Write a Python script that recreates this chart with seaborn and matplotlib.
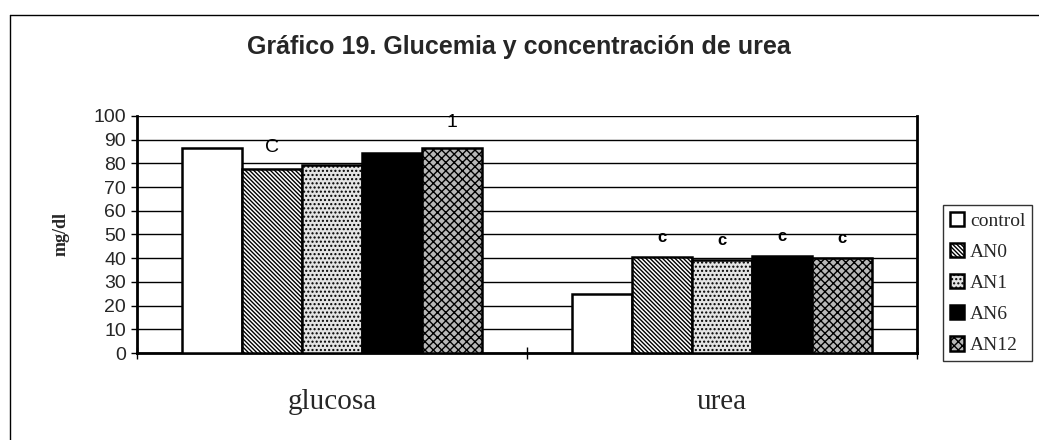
import matplotlib
matplotlib.use("Agg")
import matplotlib.pyplot as plt
import seaborn as sns
import pandas as pd
from matplotlib.lines import Line2D

categories = ["glucosa", "urea"]
groups = ["control", "AN0", "AN1", "AN6", "AN12"]
glucosa_vals = [86.5, 77.6, 79.3, 84.4, 86.5]
urea_vals = [24.9, 40.5, 39.4, 40.9, 40.2]
glucosa_marks = ["", "C", "", "", "1"]
urea_marks = ["", "c", "c", "c", "c"]
yticks = list(range(0, 101, 10))

rows = []
for g, v in zip(groups, glucosa_vals):
    rows.append({"cat": "glucosa", "group": g, "value": v})
for g, v in zip(groups, urea_vals):
    rows.append({"cat": "urea", "group": g, "value": v})
df = pd.DataFrame(rows)

sns.set_theme(style="white")
plt.rcParams["font.family"] = ["Liberation Sans", "DejaVu Sans"]
plt.rcParams["hatch.linewidth"] = 1.0

fig = plt.figure(figsize=(10.39, 4.40), dpi=100)
ax = fig.add_axes([137/1039, 1-353/440, (917-137)/1039, (353-116)/440])

faces = {"control": "white", "AN0": "white", "AN1": "#e4e4e4", "AN6": "black", "AN12": "#b8b8b8"}
hatches = {"control": "", "AN0": "\\\\\\\\\\\\\\\\", "AN1": "....", "AN6": "", "AN12": "xxxx"}

sns.barplot(data=df, x="cat", y="value", hue="group", order=categories, hue_order=groups,
            palette=faces, saturation=1, edgecolor="black", linewidth=1.8, width=0.77,
            ax=ax, legend=False)

for cont, g in zip(ax.containers, groups):
    for p in cont.patches:
        p.set_hatch(hatches[g])
        p.set_edgecolor("black")
        p.set_zorder(3)

ax.set_ylim(0, 100)
ax.set_xlim(-0.5, 1.5)
ax.set_yticks(yticks)
ax.yaxis.grid(True, color="black", linewidth=1.0, zorder=0)
ax.set_axisbelow(True)
for s in ["left", "bottom", "right"]:
    ax.spines[s].set_visible(True)
    ax.spines[s].set_color("black")
    ax.spines[s].set_linewidth(2.0)
ax.spines["top"].set_visible(False)
ax.tick_params(axis="y", which="major", length=4, width=1, color="black", direction="out",
               labelsize=14, pad=4, left=True)
ax.tick_params(axis="x", which="major", length=0, labelsize=21, pad=26)
for lbl in ax.get_xticklabels():
    lbl.set_family(["Liberation Serif", "DejaVu Serif"])
ax.set_xticks([-0.5, 0.5, 1.5], minor=True)
ax.tick_params(axis="x", which="minor", length=8, width=1, color="black", direction="inout", bottom=True)
ax.set_xlabel("")
ax.set_ylabel("mg/dl", fontsize=13, fontweight="bold", family=["Liberation Serif", "DejaVu Serif"])
ax.yaxis.set_label_coords(-0.087, 0.5)

# annotation letters above bars
gl_bars = [c.patches[0] for c in ax.containers]
ur_bars = [c.patches[1] for c in ax.containers]
for p, m in zip(gl_bars, glucosa_marks):
    if m:
        cx = p.get_x() + p.get_width() / 2
        off = 5.5 if m == "C" else 7.0
        ax.text(cx, p.get_height() + off, m, ha="center", va="bottom", fontsize=14, color="black")
for p, m in zip(ur_bars, urea_marks):
    if m:
        cx = p.get_x() + p.get_width() / 2
        ax.text(cx, p.get_height() + 5, m, ha="center", va="bottom", fontsize=12,
                fontweight="bold", color="black")

fig.suptitle("Gráfico 19. Glucemia y concentración de urea", x=519/1039, y=1-47/440, va="center",
             fontsize=18, fontweight="bold")

leg = ax.legend(handles=[c.patches[0] for c in ax.containers], labels=groups,
                loc="upper left", bbox_to_anchor=(943/1039, 1-205/440),
                bbox_transform=fig.transFigure, frameon=True, fancybox=False,
                prop={"family": ["Liberation Serif", "DejaVu Serif"], "size": 14},
                handlelength=0.75, handleheight=0.75, handletextpad=0.3,
                labelspacing=0.68, borderpad=0.35, borderaxespad=0)
leg.get_frame().set_edgecolor("black")
leg.get_frame().set_linewidth(1.0)

# outer frame (top and left edges)
fig.add_artist(Line2D([10/1039, 1.0], [1-15/440, 1-15/440], transform=fig.transFigure, color="black", linewidth=1.0))
fig.add_artist(Line2D([10/1039, 10/1039], [0.0, 1-15/440], transform=fig.transFigure, color="black", linewidth=1.0))

fig.savefig("out.png", dpi=100)
